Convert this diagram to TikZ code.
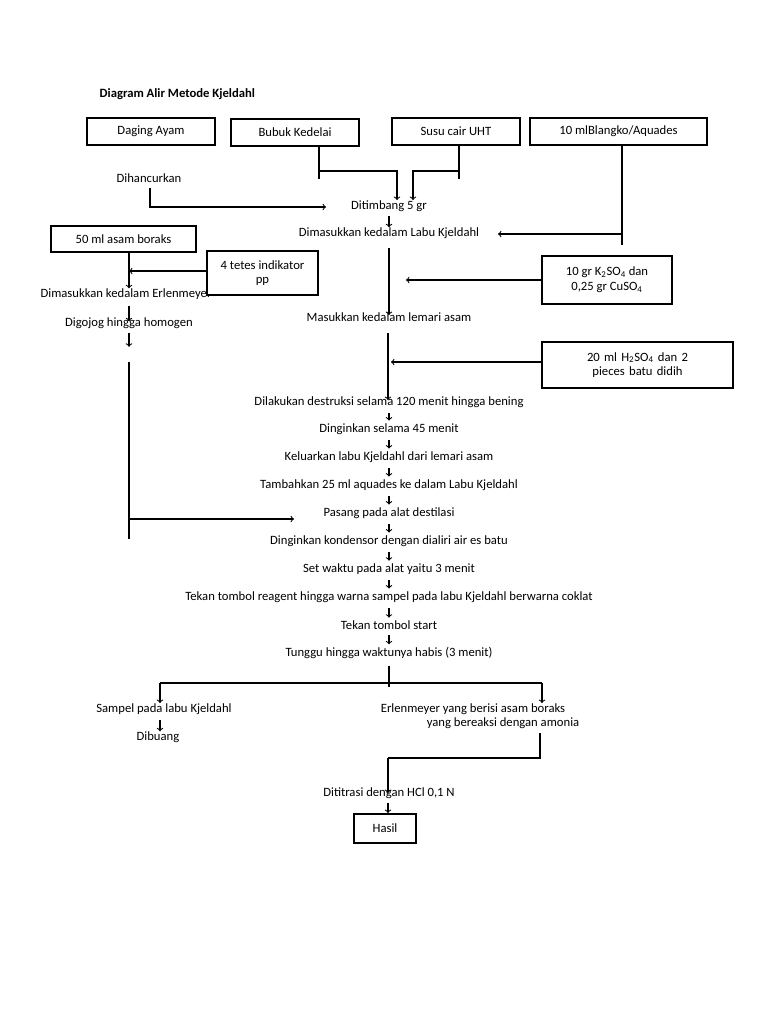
\documentclass[tikz,border=0pt]{standalone}
\usepackage{fontspec}
\setmainfont{Carlito}
\begin{document}
\begin{tikzpicture}[x=0.75pt,y=-0.75pt,
  t/.style={inner sep=0pt,font=\fontsize{9.5}{11}\selectfont},
  bx/.style={draw,thick,fill=white,font=\fontsize{9.5}{11}\selectfont},
  tb/.style={draw,line width=1.6pt,fill=white,font=\fontsize{9.5}{11}\selectfont},
  ar/.style={->,thick},
  ln/.style={thick}]
\useasboundingbox (0,0) rectangle (768,1024);
\node[anchor=west,font=\bfseries\fontsize{9.5}{11}\selectfont] (title) at (95,94) {Diagram Alir Metode Kjeldahl};
% top boxes
\node[bx,minimum width=128*0.75pt,minimum height=27*0.75pt] (da) at (151,131.5) {Daging Ayam};
\node[bx,minimum width=128*0.75pt,minimum height=27*0.75pt] (bk) at (295,132.5) {Bubuk Kedelai};
\node[bx,minimum width=128*0.75pt,minimum height=27*0.75pt] (su) at (456,131.5) {Susu cair UHT};
\node[bx,minimum width=177*0.75pt,minimum height=27*0.75pt] (bl) at (618.5,131.5) {10 mlBlangko/Aquades};
% texts
\node[t] (dh) at (149,178) {Dihancurkan};
\node[t] (dt) at (389,206) {Ditimbang 5 gr};
\node[t] (dl) at (389,233) {Dimasukkan kedalam Labu Kjeldahl};
\node[t] (de) at (126,294) {Dimasukkan kedalam Erlenmeyer};
\node[t] (dg) at (129,323) {Digojog hingga homogen};
\node[t] (ml) at (389,317) {Masukkan kedalam lemari asam};
\node[t] (s1) at (389,402) {Dilakukan destruksi selama 120 menit hingga bening};
\node[t] (s2) at (389,429) {Dinginkan selama 45 menit};
\node[t] (s3) at (389,457) {Keluarkan labu Kjeldahl dari lemari asam};
\node[t] (s4) at (389,485) {Tambahkan 25 ml aquades ke dalam Labu Kjeldahl};
\node[t] (s5) at (389,513) {Pasang pada alat destilasi};
\node[t] (s6) at (389,541) {Dinginkan kondensor dengan dialiri air es batu};
\node[t] (s7) at (389,569) {Set waktu pada alat yaitu 3 menit};
\node[t] (s8) at (389,597) {Tekan tombol reagent hingga warna sampel pada labu Kjeldahl berwarna coklat};
\node[t] (s9) at (389,625) {Tekan tombol start};
\node[t] (s10) at (389,653) {Tunggu hingga waktunya habis (3 menit)};
\node[t] (sp) at (164,709) {Sampel pada labu Kjeldahl};
\node[t] (db) at (158,737) {Dibuang};
\node[t] (er1) at (473,709) {Erlenmeyer yang berisi asam boraks};
\node[t] (er2) at (503,723) {yang bereaksi dengan amonia};
\node[t] (ti) at (389,793) {Dititrasi dengan HCl 0,1 N};
% side boxes
\node[tb,minimum width=145*0.75pt,minimum height=26*0.75pt] (ab) at (123.5,239) {50 ml asam boraks};
\node[bx,minimum width=111*0.75pt,minimum height=44*0.75pt,align=center] (pp) at (262.5,273) {4 tetes indikator\\pp};
\node[bx,minimum width=130*0.75pt,minimum height=48*0.75pt,align=center] (k2) at (607,280) {10 gr K\textsubscript{2}SO\textsubscript{4} dan\\0,25 gr CuSO\textsubscript{4}};
\node[bx,minimum width=191*0.75pt,minimum height=46*0.75pt,align=center,text width=170*0.75pt] (h2) at (637.5,365) {20 ml H\textsubscript{2}SO\textsubscript{4} dan 2 pieces batu didih};
\node[tb,minimum width=62*0.75pt,minimum height=29*0.75pt,anchor=north,inner sep=1pt] (ha) at (385,813) {Hasil};
% coordinates
\coordinate (b1) at (319,179); \coordinate (b2) at (319,171); \coordinate (b3) at (397,171); \coordinate (b4) at (397,200);
\coordinate (u1) at (459,179); \coordinate (u2) at (459,171); \coordinate (u3) at (413,171); \coordinate (u4) at (413,200);
\coordinate (h1) at (150,188); \coordinate (h2c) at (150,207); \coordinate (h3) at (326,207);
\coordinate (l1) at (622,245); \coordinate (l2) at (622,234); \coordinate (l3) at (498,234);
\coordinate (m1) at (389,248); \coordinate (m2) at (389,315);
\coordinate (k1) at (406,280);
\coordinate (n1) at (388,333); \coordinate (n2) at (388,400); \coordinate (n3) at (391,362);
\coordinate (e1) at (129,362); \coordinate (e2) at (129,539); \coordinate (e3) at (129,519); \coordinate (e4) at (294,519);
\coordinate (p1) at (129,271);
\coordinate (f1) at (389,666); \coordinate (f2) at (389,687);
\coordinate (g1) at (160,683); \coordinate (g2) at (542,683);
\coordinate (g3) at (160,703); \coordinate (g4) at (542,703);
\coordinate (r1) at (540,733); \coordinate (r2) at (540,758); \coordinate (r3) at (388,758); \coordinate (r4) at (388,793);
% connectors
\draw[ln] (bk.south -| b1) -- (b1);
\draw[ar] (b2) -- (b3) -- (b4);
\draw[ln] (su.south -| u1) -- (u1);
\draw[ar] (u2) -- (u3) -- (u4);
\draw[ar] (h1) -- (h2c) -- (h3);
\draw[ar] (dt.south -| dl.north) ++(0,4) -- (dl.north);
\draw[ln] (bl.south -| l1) -- (l1);
\draw[ar] (l2) -- (l3);
\draw[ar] (m1) -- (m2);
\draw[ar] (k2.west) -- (k1);
\draw[ar] (n1) -- (n2);
\draw[ar] (h2.west |- n3) -- (n3);
\draw[ar] (ab.south -| p1) -- (de.north -| p1);
\draw[ar] (pp.west |- p1) -- (p1);
\draw[ar] (de.south -| p1) ++(0,6) -- ([yshift=-3]dg.north -| p1);
\draw[ar] (dg.south -| p1) ++(0,4) -- ++(0,14);
\draw[ln] (e1) -- (e2);
\draw[ar] (e3) -- (e4);
\foreach \a/\b in {s1/s2,s2/s3,s3/s4,s4/s5,s5/s6,s6/s7,s7/s8,s8/s9,s9/s10}
  \draw[ar] ([yshift=-4]\a.south) -- ([yshift=2]\b.north);
\draw[ln] (f1) -- (f2);
\draw[ln] (g1) -- (g2);
\draw[ar] (g1) -- (g3);
\draw[ar] (g2) -- (g4);
\draw[ar] ([yshift=-4]sp.south -| g1) -- (db.north -| g1);
\draw[ln] (r1) -- (r2) -- (r3);
\draw[ar] (r3) -- (r4);
\draw[ar] ([yshift=-3]ti.south -| r3) -- (ha.north -| r3);
\end{tikzpicture}
\end{document}
